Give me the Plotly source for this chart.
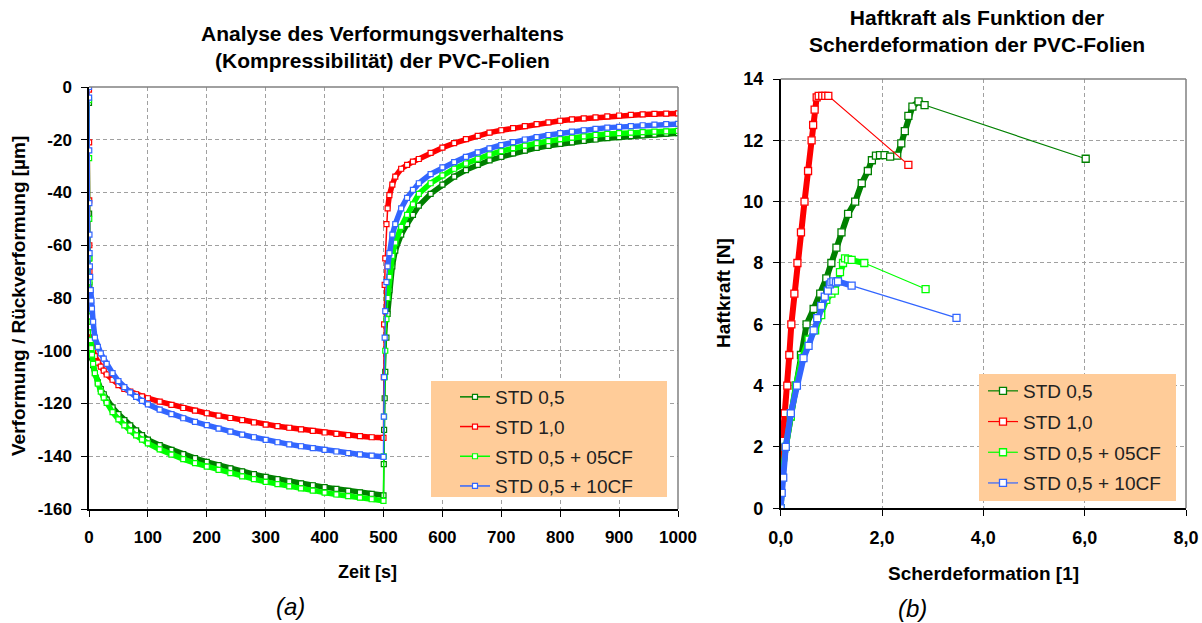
import plotly.graph_objects as go

W, H = 1202, 623

# ---------------- (a) Verformung / Rückverformung über der Zeit ----------------
T_COMP = [0, 0.2, 0.4, 0.6, 0.8, 1, 1.5, 2, 3, 4, 5, 7, 10, 15, 20, 25, 30, 40, 50, 60,
          70, 80, 90, 100, 120, 140, 160, 180, 200, 220, 240, 260, 280, 300, 320, 340,
          360, 380, 400, 420, 440, 460, 480, 500]
T_REC = [500.5, 501, 502, 503, 505, 507, 510, 515, 520, 530, 540, 550, 560, 580, 600,
         620, 640, 660, 680, 700, 720, 740, 760, 780, 800, 820, 840, 860, 880, 900,
         920, 940, 960, 980, 1000]

STD05_COMP = [-6, -48, -65, -75, -82, -86, -91, -94, -98, -100.5, -102.5, -105.5, -108.5,
              -112, -114.5, -116.5, -118.5, -121.5, -124, -126.3, -128.3, -130.2, -132,
              -133.7, -135.8, -137.6, -139.2, -140.7, -142.1, -143.4, -144.6, -145.7,
              -146.8, -147.8, -148.7, -149.5, -150.3, -151, -151.7, -152.4, -153.1,
              -153.7, -154.3, -154.8]
STD10_COMP = [-1, -21, -43, -60, -70, -78, -85, -89, -93, -96, -98, -100, -102, -104.5,
              -106, -107.5, -109, -111, -113, -114.5, -115.5, -116.5, -117.3, -118,
              -119.3, -120.5, -121.7, -122.7, -123.7, -124.6, -125.5, -126.3, -127.2,
              -128, -128.6, -129.2, -129.8, -130.4, -131, -131.5, -132, -132.4, -132.8,
              -133]
CF05_COMP = [-5, -27, -50, -65, -74, -80, -87, -91, -96, -99, -101.5, -105, -108.5, -112.5,
             -115.5, -117.8, -119.8, -123.3, -126, -128.3, -130.3, -132.1, -133.7, -135.1,
             -137.4, -139.4, -141.1, -142.6, -143.9, -145.2, -146.4, -147.6, -148.7,
             -149.7, -150.6, -151.4, -152.2, -153, -153.8, -154.5, -155.1, -155.7,
             -156.3, -156.9]
CF10_COMP = [0, -4, -24, -44, -56, -63, -68, -72, -77, -81, -84, -89, -95, -98.5, -101,
             -103, -105, -108.5, -111.5, -113.8, -115.8, -117.5, -119, -120.3, -122.3,
             -124, -125.6, -127, -128.2, -129.5, -130.7, -131.8, -132.8, -133.8, -134.7,
             -135.5, -136.2, -136.9, -137.6, -138.2, -138.8, -139.3, -139.8, -140.2]

STD05_REC = [-143, -130, -118, -108, -95, -86, -77, -68, -62, -56, -52, -48.5, -45, -40.5,
             -37, -34, -31.5, -29.5, -27.8, -26.5, -25.2, -24.1, -23.1, -22.3, -21.6, -21,
             -20.4, -19.9, -19.4, -19, -18.6, -18.3, -18, -17.7, -17.5]
STD10_REC = [-110, -90, -75, -65, -52, -46, -41, -37, -34, -31, -29.5, -28.3, -27.3, -25,
             -23, -21.3, -19.8, -18.5, -17.3, -16.4, -15.6, -14.8, -14.1, -13.4, -12.8,
             -12.3, -11.9, -11.5, -11.1, -10.8, -10.6, -10.4, -10.2, -10.1, -10]
CF05_REC = [-140, -125, -110, -100, -88, -80, -72, -64, -59, -53, -48.5, -44.5, -40.5,
            -36.5, -33.5, -31, -29, -27.2, -25.6, -24.3, -23.2, -22.2, -21.3, -20.5,
            -19.8, -19.2, -18.7, -18.2, -17.8, -17.5, -17.3, -17.1, -16.9, -16.8, -16.6]
CF10_REC = [-125, -110, -95, -85, -74, -68, -63, -56, -52, -46, -42, -39, -36.5, -33,
            -30.5, -28.5, -26.5, -24.8, -23.3, -22, -20.9, -19.9, -19, -18.2, -17.5,
            -16.9, -16.4, -15.9, -15.4, -15.1, -14.8, -14.5, -14.3, -14.1, -14]

# ---------------- (b) Haftkraft über der Scherdeformation ----------------
STD05_GAMMA = [0, 0.03, 0.1, 0.2, 0.3, 0.4, 0.51, 0.65, 0.78, 0.9, 1.0, 1.1, 1.2, 1.33,
               1.47, 1.6, 1.72, 1.8, 1.88, 1.96, 2.05, 2.16, 2.3, 2.38, 2.45, 2.52, 2.6,
               2.72, 2.84, 6.02]
STD05_F = [0, 1, 2, 3, 4, 5, 6, 6.5, 7, 7.5, 8, 8.5, 9, 9.6, 10, 10.6, 11, 11.35, 11.5,
           11.52, 11.52, 11.47, 11.5, 11.9, 12.3, 12.8, 13.1, 13.27, 13.15, 11.4]
STD10_GAMMA = [0, 0.01, 0.03, 0.08, 0.13, 0.17, 0.21, 0.27, 0.33, 0.4, 0.47, 0.54, 0.61,
               0.64, 0.67, 0.71, 0.75, 0.82, 0.88, 0.94, 2.52]
STD10_F = [0, 1.2, 2.2, 3.1, 4, 5, 6, 7, 8, 9, 10, 11, 12, 12.5, 13, 13.4, 13.45, 13.45,
           13.45, 13.45, 11.2]
CF05_GAMMA = [0, 0.03, 0.1, 0.2, 0.3, 0.42, 0.55, 0.68, 0.8, 0.9, 1.0, 1.07, 1.12, 1.17,
              1.23, 1.27, 1.33, 1.4, 1.65, 2.86]
CF05_F = [0, 1, 2, 3, 4, 4.9, 5.5, 5.8, 6.3, 6.8, 7.0, 7.1, 7.4, 7.7, 8.0, 8.15, 8.12,
          8.1, 8.0, 7.15]
CF10_GAMMA = [0, 0.02, 0.05, 0.1, 0.2, 0.32, 0.45, 0.55, 0.65, 0.72, 0.8, 0.87, 0.93,
              0.97, 1.0, 1.04, 1.09, 1.13, 1.4, 3.47]
CF10_F = [0, 0.5, 1, 2, 3.1, 4, 4.9, 5.3, 5.8, 6.2, 6.6, 6.9, 7.1, 7.3, 7.37, 7.4, 7.37,
          7.4, 7.26, 6.21]

SERIES = ["STD 0,5", "STD 1,0", "STD 0,5 + 05CF", "STD 0,5 + 10CF"]
COLORS = ["#008000", "#FF0000", "#00FF00", "#3366FF"]

A_XTICKS = [0, 100, 200, 300, 400, 500, 600, 700, 800, 900, 1000]
A_XTICKTEXT = ["0", "100", "200", "300", "400", "500", "600", "700", "800", "900", "1000"]
A_YTICKS = [0, -20, -40, -60, -80, -100, -120, -140, -160]
A_YTICKTEXT = ["0", "-20", "-40", "-60", "-80", "-100", "-120", "-140", "-160"]
B_XTICKS = [0, 2, 4, 6, 8]
B_XTICKTEXT = ["0,0", "2,0", "4,0", "6,0", "8,0"]
B_YTICKS = [0, 2, 4, 6, 8, 10, 12, 14]
B_YTICKTEXT = ["0", "2", "4", "6", "8", "10", "12", "14"]

FONT = "Liberation Sans, Arial, sans-serif"


def fx(px):
    return px / W


def fy(py):
    return 1 - py / H


fig = go.Figure()

comp_sets = [STD05_COMP, STD10_COMP, CF05_COMP, CF10_COMP]
rec_sets = [STD05_REC, STD10_REC, CF05_REC, CF10_REC]

for name, color, comp, rec in zip(SERIES, COLORS, comp_sets, rec_sets):
    t_all = T_COMP + T_REC
    v_all = comp + rec
    # thick band for the densely sampled parts; the fast jumps stay thin
    bx, by = [], []
    for t, v in zip(T_COMP, comp):
        if t >= 3:
            bx.append(t)
            by.append(v)
    bx.append(None)
    by.append(None)
    for t, v in zip(T_REC, rec):
        if t >= 507:
            bx.append(t)
            by.append(v)
    fig.add_trace(go.Scatter(x=bx, y=by, mode="lines", xaxis="x", yaxis="y",
                             line=dict(color=color, width=5.5), showlegend=False,
                             hoverinfo="skip", legendgroup="a" + name))
    fig.add_trace(go.Scatter(x=t_all, y=v_all, mode="lines+markers", name=name,
                             xaxis="x", yaxis="y", legend="legend", legendgroup="a" + name,
                             line=dict(color=color, width=1.5),
                             marker=dict(symbol="square", size=5, color="white",
                                         line=dict(color=color, width=1.2))))

gam_sets = [STD05_GAMMA, STD10_GAMMA, CF05_GAMMA, CF10_GAMMA]
f_sets = [STD05_F, STD10_F, CF05_F, CF10_F]
for name, color, g, f in zip(SERIES, COLORS, gam_sets, f_sets):
    fig.add_trace(go.Scatter(x=g[:-1], y=f[:-1], mode="lines", xaxis="x2", yaxis="y2",
                             line=dict(color=color, width=6), showlegend=False,
                             hoverinfo="skip", legendgroup="b" + name))
    fig.add_trace(go.Scatter(x=g, y=f, mode="lines+markers", name=name,
                             xaxis="x2", yaxis="y2", legend="legend2",
                             legendgroup="b" + name,
                             line=dict(color=color, width=1.2),
                             marker=dict(symbol="square", size=7, color="white",
                                         line=dict(color=color, width=1.3))))

grid = dict(showgrid=True, gridcolor="#A0A0A0", griddash="4px,3px", gridwidth=1,
            showline=True, linecolor="black", linewidth=1.5, zeroline=False,
            ticks="outside", ticklen=6, tickcolor="black", tickwidth=1)

fig.update_layout(
    width=W, height=H, autosize=False,
    margin=dict(l=0, r=0, t=0, b=0, autoexpand=False),
    paper_bgcolor="white", plot_bgcolor="white",
    font=dict(family=FONT, color="black"),
    xaxis=dict(domain=[fx(89), fx(678)], range=[0, 1000], anchor="y",
               tickvals=A_XTICKS, ticktext=A_XTICKTEXT,
               tickfont=dict(size=17, weight="bold"), ticklabelstandoff=6, **grid),
    yaxis=dict(domain=[fy(509), fy(87)], range=[-160, 0], anchor="x",
               tickvals=A_YTICKS, ticktext=A_YTICKTEXT,
               tickfont=dict(size=17, weight="bold"), ticklabelstandoff=6, **grid),
    xaxis2=dict(domain=[fx(780.7), fx(1186)], range=[0, 8], anchor="y2",
                tickvals=B_XTICKS, ticktext=B_XTICKTEXT,
                tickfont=dict(size=18, weight="bold"), ticklabelstandoff=6, **grid),
    yaxis2=dict(domain=[fy(508.3), fy(79)], range=[0, 14], anchor="x2",
                tickvals=B_YTICKS, ticktext=B_YTICKTEXT,
                tickfont=dict(size=18, weight="bold"), ticklabelstandoff=6, **grid),
    legend=dict(x=fx(455), y=fy(378), xanchor="left", yanchor="top",
                bgcolor="rgba(0,0,0,0)", font=dict(family=FONT, size=19, color="#222"),
                tracegroupgap=2, itemwidth=30, traceorder="grouped"),
    legend2=dict(x=fx(983), y=fy(372), xanchor="left", yanchor="top",
                 bgcolor="rgba(0,0,0,0)", font=dict(family=FONT, size=19, color="#222"),
                 tracegroupgap=3, itemwidth=30, traceorder="grouped"),
)

shapes = []
# grey frame on the top and right of each plot area
for xa, ya in (("x", "y"), ("x2", "y2")):
    shapes.append(dict(type="line", xref=xa + " domain", yref=ya + " domain",
                       x0=0, x1=1, y0=1, y1=1, line=dict(color="#808080", width=1.5),
                       layer="above"))
    shapes.append(dict(type="line", xref=xa + " domain", yref=ya + " domain",
                       x0=1, x1=1, y0=0, y1=1, line=dict(color="#808080", width=1.5),
                       layer="above"))
# legend boxes
for x0, x1, y0, y1 in ((431, 667, 381, 497), (979, 1176, 374, 501)):
    shapes.append(dict(type="rect", xref="paper", yref="paper",
                       x0=fx(x0), x1=fx(x1), y0=fy(y1), y1=fy(y0),
                       fillcolor="#FFCC99", line=dict(width=0), layer="above"))
fig.update_layout(shapes=shapes)


def note(text, px, py, size, weight="normal", style="normal", angle=0):
    fig.add_annotation(text=text, x=fx(px), y=fy(py), xref="paper", yref="paper",
                       xanchor="center", yanchor="middle", showarrow=False,
                       textangle=angle,
                       font=dict(family=FONT, size=size, color="black",
                                 weight=weight, style=style))


note("Analyse des Verformungsverhaltens<br>(Kompressibilität) der PVC-Folien",
     382, 47, 21, weight="bold")
note("Haftkraft als Funktion der<br>Scherdeformation der PVC-Folien",
     977, 31, 21, weight="bold")
note("Zeit [s]", 367, 572, 18, weight="bold")
note("Verformung / Rückverformung [µm]", 18, 296, 19, weight="bold", angle=-90)
note("Scherdeformation [1]", 983, 573, 19, weight="bold")
note("Haftkraft [N]", 724, 293, 19, weight="bold", angle=-90)
note("(a)", 290, 606, 24, style="italic")
note("(b)", 912, 608, 24, style="italic")

fig.write_html("out.html")
